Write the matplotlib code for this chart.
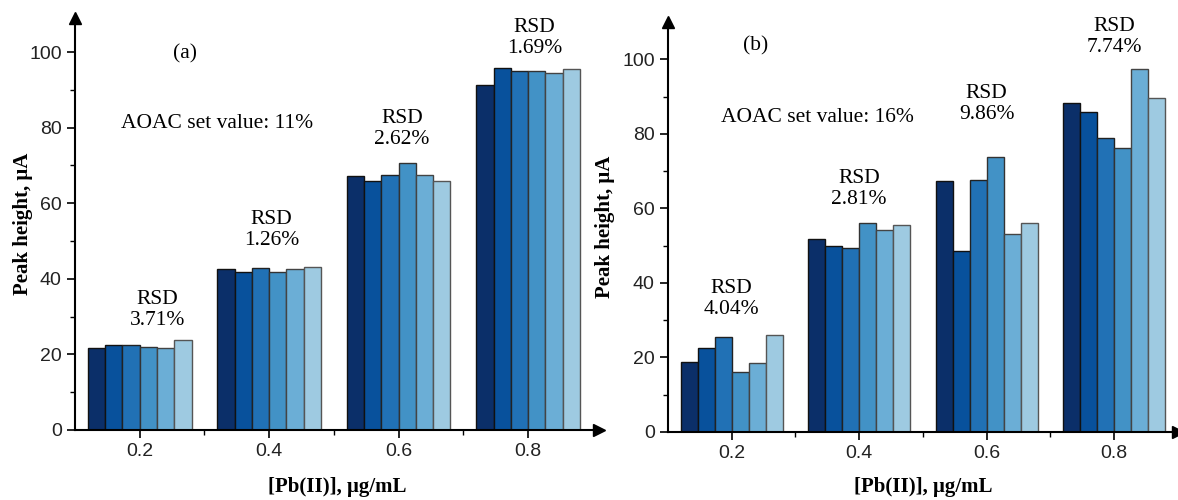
import numpy as np
import matplotlib
matplotlib.use('Agg')
import matplotlib.pyplot as plt

conc = [0.2, 0.4, 0.6, 0.8]
tick_labels = ['0.2', '0.4', '0.6', '0.8']

# six repeats per concentration, panel (a) and (b)
peaks_a = [
    [21.8, 22.6, 22.4, 22.0, 21.6, 23.9],
    [42.7, 41.9, 42.9, 41.8, 42.7, 43.1],
    [67.3, 65.8, 67.5, 70.7, 67.5, 65.9],
    [91.4, 95.8, 94.9, 95.1, 94.4, 95.5],
]
peaks_b = [
    [18.8, 22.6, 25.4, 16.0, 18.5, 26.0],
    [51.7, 50.0, 49.4, 56.0, 54.2, 55.5],
    [67.3, 48.5, 67.5, 73.7, 53.2, 56.0],
    [88.4, 85.8, 78.8, 76.2, 97.3, 89.5],
]
rsd_a = ['3.71%', '1.26%', '2.62%', '1.69%']
rsd_b = ['4.04%', '2.81%', '9.86%', '7.74%']
aoac_a = 'AOAC set value: 11%'
aoac_b = 'AOAC set value: 16%'

colors = ['#0b2f69', '#08519c', '#2171b5', '#4292c6', '#6baed6', '#9ecae1']
edges = ['#111111', '#111111', '#222222', '#333333', '#444444', '#555555']

serif = 'Liberation Serif'
sans = 'Liberation Sans'

fig = plt.figure(figsize=(11.78, 5.0), dpi=100)
ax1 = fig.add_axes([0.0637, 0.14, 0.445, 0.824])
ax2 = fig.add_axes([0.567, 0.136, 0.433, 0.82])


def draw_panel(ax, peaks, rsd, rsd_pos, aoac, aoac_pos, tag, tag_pos, xmax, ymax,
               ylab_x, xlab_y):
    peaks = np.array(peaks)
    n = peaks.shape[1]
    w = 0.16 / n
    for j in range(n):
        x = np.array(conc) - 0.08 + w * (j + 0.5)
        ax.bar(x, peaks[:, j], width=w, color=colors[j],
               edgecolor=edges[j], linewidth=1.0, zorder=2)

    ax.set_xlim(0.1, xmax)
    ax.set_ylim(0, ymax)
    ax.set_xticks(conc)
    ax.set_xticklabels(tick_labels)
    ax.set_xticks([0.3, 0.5, 0.7], minor=True)
    ax.set_yticks([0, 20, 40, 60, 80, 100])
    ax.set_yticks([10, 30, 50, 70, 90], minor=True)
    ax.tick_params(axis='both', which='major', direction='out', length=6,
                   width=1.2, labelsize=14, labelcolor='#222222')
    ax.tick_params(axis='both', which='minor', direction='out', length=3.5, width=1.0)
    for lab in ax.get_xticklabels() + ax.get_yticklabels():
        lab.set_fontfamily(sans)

    for s in ['top', 'right']:
        ax.spines[s].set_visible(False)
    for s in ['left', 'bottom']:
        ax.spines[s].set_linewidth(1.5)
    ax.plot(1, 0, '>k', markersize=8, transform=ax.transAxes, clip_on=False)
    ax.plot(0, 1, '^k', markersize=8, transform=ax.transAxes, clip_on=False)

    ax.set_xlabel('[Pb(II)], μg/mL', family=serif, fontweight='bold', fontsize=15)
    ax.set_ylabel('Peak height, μA', family=serif, fontweight='bold', fontsize=15)
    ax.yaxis.set_label_coords(ylab_x, 0.5)
    ax.xaxis.set_label_coords(0.5, xlab_y)

    for (x, y), r in zip(rsd_pos, rsd):
        ax.text(x, y, 'RSD\n' + r, ha='center', va='center', family=serif,
                fontsize=15.5, linespacing=1.15)
    ax.text(aoac_pos[0], aoac_pos[1], aoac, ha='center', va='center', family=serif, fontsize=15.5)
    ax.text(tag_pos[0], tag_pos[1], tag, ha='center', va='center', family=serif, fontsize=15.5)


draw_panel(ax1, peaks_a, rsd_a,
           [(0.227, 31.7), (0.404, 53.0), (0.605, 79.6), (0.81, 103.7)],
           aoac_a, (0.32, 81.0), '(a)', (0.27, 99.5), 0.91, 109, -0.08, -0.114)
draw_panel(ax2, peaks_b, rsd_b,
           [(0.2, 35.8), (0.4, 65.2), (0.6, 88.0), (0.8, 106.0)],
           aoac_b, (0.335, 84.5), '(b)', (0.238, 103.5), 0.9, 110, -0.104, -0.11)

fig.savefig('out.png', dpi=100)
plt.close(fig)
